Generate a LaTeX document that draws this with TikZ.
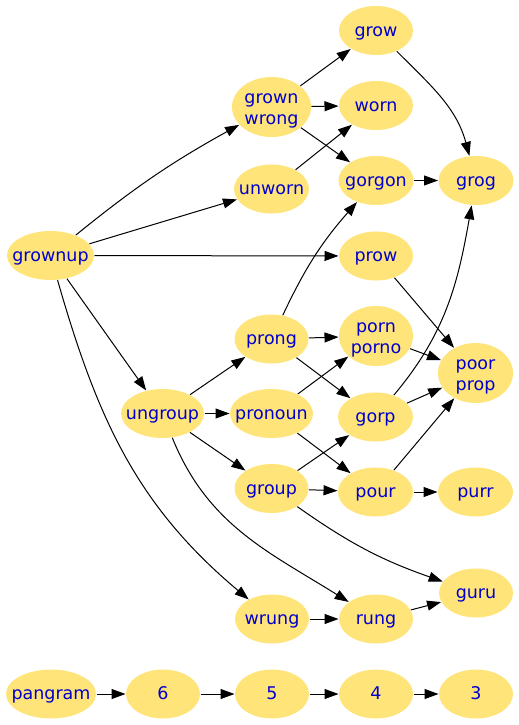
\documentclass[tikz,border=0pt]{standalone}
\usepackage{fontspec}
\setmainfont{DejaVu Sans}
\usepackage{xcolor}
\usepackage{tikz}
\usetikzlibrary{arrows.meta,shapes.geometric}

\definecolor{wordfill}{RGB}{255,228,122}
\definecolor{wordblue}{RGB}{0,0,205}

\begin{document}
\begin{tikzpicture}[
  x=1pt, y=1pt,
  font=\fontsize{17.5}{21}\selectfont,
  word/.style ={ellipse, fill=wordfill, text=wordblue, inner xsep=-14pt, inner ysep=0pt,
                minimum width=74pt, minimum height=49pt, align=center,
                text height=14pt, text depth=2.4pt},
  word2/.style={ellipse, fill=wordfill, text=wordblue, inner xsep=-14pt, inner ysep=0pt,
                minimum width=74pt, minimum height=60pt, align=center,
                text height=37pt, text depth=2.4pt},
  >={Triangle[length=14pt, width=10pt]}, line width=1pt]
\useasboundingbox (0,0) rectangle (519,-725);
% top block
\node[word] (grow) at (376,-30.5) {grow};
\node[word2, minimum width=79pt] (grownwrong) at (271.5,-107) {grown\\wrong};
\node[word] (worn) at (376,-105.5) {worn};
\node[word, minimum width=75pt] (unworn) at (271.5,-189) {unworn};
\node[word, minimum width=75pt] (gorgon) at (376,-180.5) {gorgon};
\node[word, minimum width=75pt] (grog) at (476,-180.5) {grog};
\node[word, minimum width=87pt] (grownup) at (50.5,-255.5) {grownup};
\node[word] (prow) at (376,-256) {prow};
% middle block
\node[word] (prong) at (271.5,-339) {prong};
\node[word2] (pornporno) at (376,-336) {porn\\porno};
\node[word2, minimum width=75pt] (poorprop) at (475.5,-373) {poor\\prop};
\node[word, minimum width=83pt] (ungroup) at (162.5,-413.5) {ungroup};
\node[word, minimum width=83pt] (pronoun) at (271.5,-413.5) {pronoun};
\node[word, minimum width=75pt] (gorp) at (375.5,-417) {gorp};
\node[word] (group) at (271.5,-488.5) {group};
\node[word, minimum width=75pt] (pour) at (375.5,-492) {pour};
\node[word, minimum width=75pt] (purr) at (475.5,-492) {purr};
\node[word] (guru) at (476,-593) {guru};
\node[word] (wrung) at (272,-619) {wrung};
\node[word] (rung) at (376,-619) {rung};
% bottom row
\node[word, minimum width=90pt] (pangram) at (51,-694) {pangram};
\node[word] (n6) at (163,-694) {6};
\node[word] (n5) at (272,-694) {5};
\node[word] (n4) at (376,-694) {4};
\node[word] (n3) at (476,-694) {3};

\draw[->] (grownup) to[bend left=5] (grownwrong); \draw[->] (grownup) -- (unworn);
\draw[->] (grownup) -- (prow); \draw[->] (grownup) -- (ungroup);
\draw[->] (grownup) to[out=-74, in=140] (wrung);
\draw[->] (grownwrong) -- (grow); \draw[->] (grownwrong) -- (worn);
\draw[->] (grownwrong) -- (gorgon); \draw[->] (unworn) -- (worn);
\draw[->] (grow) to[out=-45, in=105] (grog); \draw[->] (gorgon) -- (grog);
\draw[->] (prow) -- (poorprop);
\draw[->] (prong) to[bend left=8] (gorgon); \draw[->] (prong) -- (pornporno);
\draw[->] (prong) -- (gorp); \draw[->] (pornporno) -- (poorprop);
\draw[->] (gorp) to[out=50, in=-100] (grog); \draw[->] (gorp) -- (poorprop);
\draw[->] (ungroup) -- (prong); \draw[->] (ungroup) -- (pronoun);
\draw[->] (ungroup) -- (group); \draw[->] (ungroup) to[out=-68, in=148] (rung);
\draw[->] (pronoun) -- (pornporno); \draw[->] (pronoun) -- (pour);
\draw[->] (group) -- (gorp); \draw[->] (group) -- (pour);
\draw[->] (group) to[bend right=8] (guru);
\draw[->] (pour) -- (purr); \draw[->] (pour) -- (poorprop);
\draw[->] (wrung) -- (rung); \draw[->] (rung) -- (guru);
\draw[->] (pangram) -- (n6); \draw[->] (n6) -- (n5);
\draw[->] (n5) -- (n4); \draw[->] (n4) -- (n3);
\end{tikzpicture}
\end{document}
